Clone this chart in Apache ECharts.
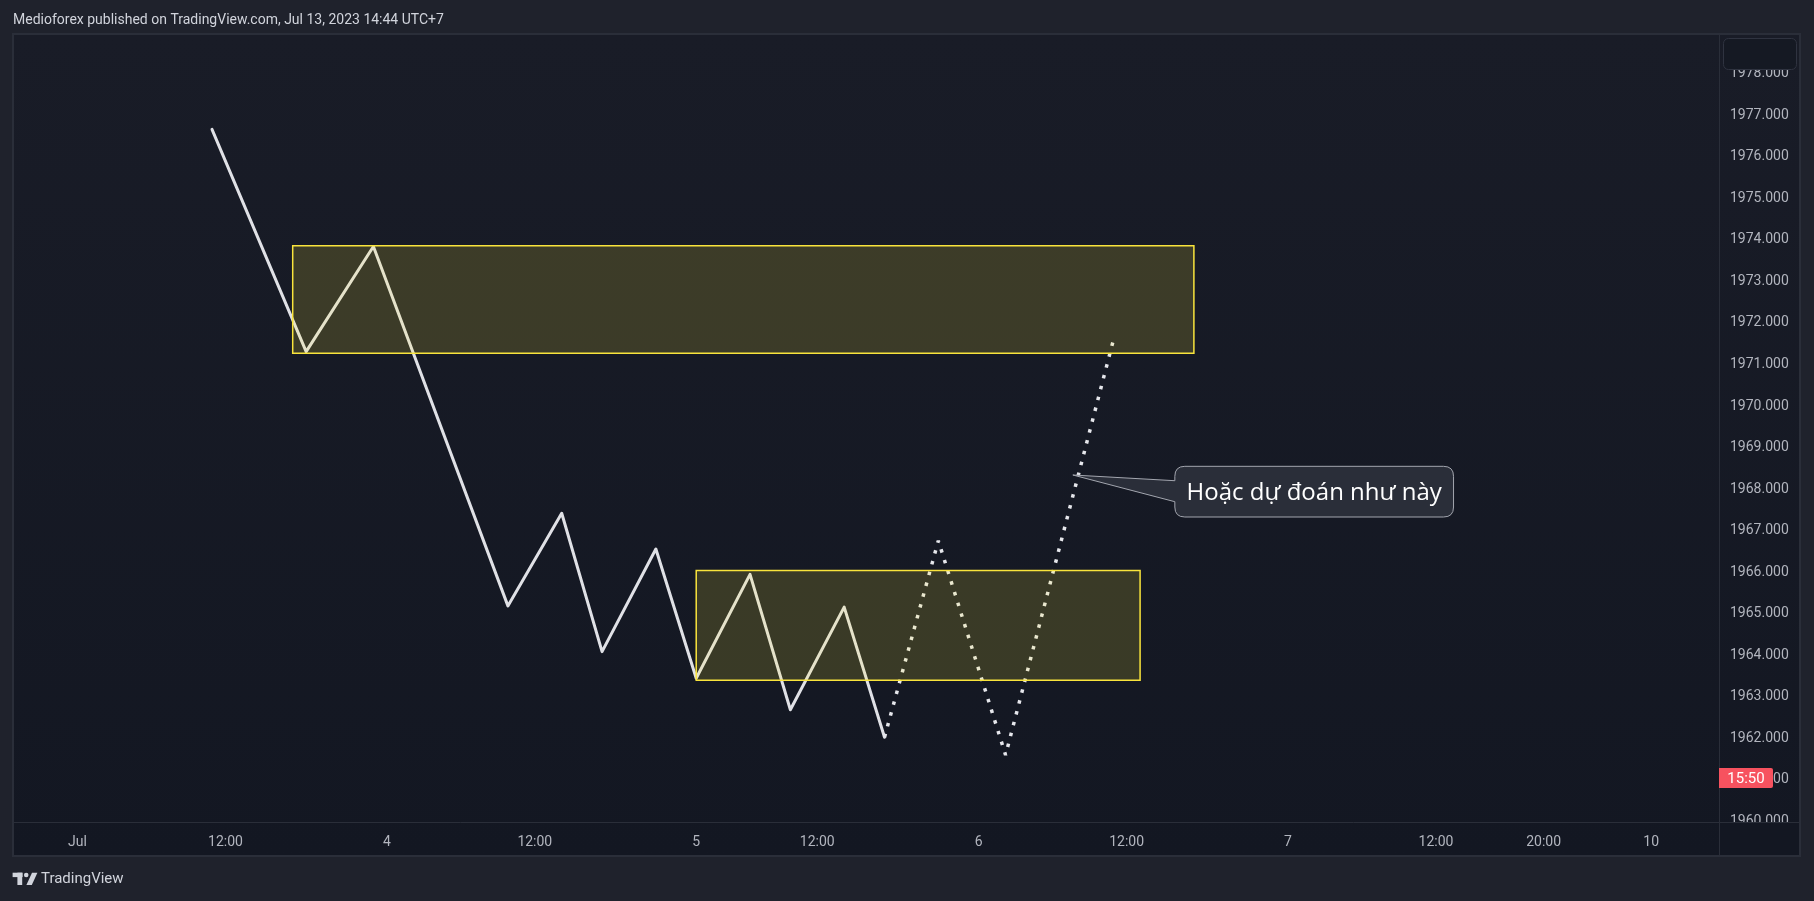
<!DOCTYPE html>
<html>
<head>
<meta charset="utf-8">
<script src="https://cdn.jsdelivr.net/npm/echarts@6/dist/echarts.min.js"></script>
<style>
html,body{margin:0;padding:0;background:#1f222c;}
#chart{width:1814px;height:901px;}
</style>
</head>
<body>
<div id="chart"></div>
<script>
// ---- data ----
const xLabelPos = [0, 11, 23, 34, 46, 55, 67, 78, 90, 101, 109, 117];
const xLabelText = ['Jul', '12:00', '4', '12:00', '5', '12:00', '6', '12:00', '7', '12:00', '20:00', '10'];
const yTicks = [1960, 1961, 1962, 1963, 1964, 1965, 1966, 1967, 1968, 1969, 1970, 1971, 1972, 1973, 1974, 1975, 1976, 1977, 1978];
const pathX = [10, 17, 22, 32, 36, 39, 43, 46, 50, 53, 57, 60];
const pathY = [1976.60, 1971.25, 1973.78, 1965.13, 1967.36, 1964.03, 1966.50, 1963.39, 1965.89, 1962.63, 1965.10, 1961.97];
const forecastX = [60, 64, 69, 77];
const forecastY = [1961.97, 1966.70, 1961.54, 1971.51];
const zoneStartX = [16, 46];
const zoneEndX = [83, 79];
const zoneTop = [1973.80, 1965.98];
const zoneBottom = [1971.21, 1963.34];
const calloutX = [74];
const calloutY = [1968.28];
const calloutText = ['Hoặc dự đoán như này'];
const titleText = 'Medioforex published on TradingView.com, Jul 13, 2023 14:44 UTC+7';
const countdownText = '15:50';

// ---- chart ----
const chart = echarts.init(document.getElementById('chart'), null, {renderer: 'canvas'});
const FONT = 'Roboto, "Noto Sans", sans-serif';
const GRID = {left: 14, right: 95, top: 35, bottom: 79};
const xMin = -4.72, xMax = 122.04, yMin = 1959.929, yMax = 1978.87;

const pathData = pathX.map((x, i) => [x, pathY[i]]);
const forecastData = forecastX.map((x, i) => [x, forecastY[i]]);
const zoneData = zoneStartX.map((x, i) => [x, zoneTop[i], zoneEndX[i], zoneBottom[i]]);
const calloutData = calloutX.map((x, i) => [x, calloutY[i], i]);

const option = {
  backgroundColor: '#1f222c',
  animation: false,
  grid: GRID,
  xAxis: {
    type: 'value', min: xMin, max: xMax,
    axisLine: {show: false}, axisTick: {show: false}, splitLine: {show: false},
    axisLabel: {
      customValues: xLabelPos,
      margin: 13,
      color: '#b2b5be', fontSize: 14, fontFamily: FONT,
      formatter: (v) => { const i = xLabelPos.indexOf(Math.round(v)); return i >= 0 ? xLabelText[i] : ''; }
    }
  },
  yAxis: {
    type: 'value', position: 'right', min: yMin, max: yMax,
    axisLine: {show: false}, axisTick: {show: false}, splitLine: {show: false},
    axisLabel: {
      customValues: yTicks,
      margin: 11, align: 'left', verticalAlign: 'top', lineHeight: 5,
      color: '#b2b5be', fontSize: 14, fontFamily: FONT,
      formatter: (v) => Number(v).toFixed(3)
    }
  },
  graphic: [
    {type: 'rect', z: -10, silent: true,
     shape: {x: 12, y: 33, width: 1789, height: 824},
     style: {fill: new echarts.graphic.LinearGradient(0, 0, 0, 1, [
       {offset: 0, color: '#191c27'}, {offset: 1, color: '#131722'}])}},
    {type: 'rect', z: 50, silent: true,
     shape: {x: 13, y: 34, width: 1787, height: 822},
     style: {fill: 'none', stroke: '#2a2e39', lineWidth: 2}},
    {type: 'rect', z: 40, silent: true,
     shape: {x: 1720, y: 823, width: 80, height: 33},
     style: {fill: '#131722'}},
    {type: 'line', z: 50, silent: true,
     shape: {x1: 1719.5, y1: 34, x2: 1719.5, y2: 856},
     style: {stroke: '#2a2e39', lineWidth: 1}},
    {type: 'line', z: 50, silent: true,
     shape: {x1: 14, y1: 822.5, x2: 1800, y2: 822.5},
     style: {stroke: '#2a2e39', lineWidth: 1}},
    {type: 'rect', z: 50, silent: true,
     shape: {x: 1723.5, y: 38.5, width: 73, height: 31, r: 5},
     style: {fill: '#151923', stroke: '#2f3340', lineWidth: 1}},
    {type: 'rect', z: 50, silent: true,
     shape: {x: 1719, y: 768, width: 54, height: 20, r: [0, 2, 2, 0]},
     style: {fill: '#f7525f'}},
    {type: 'text', z: 51, silent: true,
     style: {text: countdownText, x: 1746, y: 779, align: 'center', verticalAlign: 'middle',
             fill: '#ffffff', font: '15px ' + FONT}},
    {type: 'text', z: 50, silent: true,
     style: {text: titleText, x: 13, y: 20, align: 'left', verticalAlign: 'middle',
             fill: '#d1d4dc', font: '14px ' + FONT}},
    // TradingView logo
    {type: 'group', z: 50, silent: true, children: [
      {type: 'rect', shape: {x: 12.6, y: 872.7, width: 10, height: 4.4}, style: {fill: '#d1d4dc'}},
      {type: 'rect', shape: {x: 17.4, y: 872.7, width: 4.8, height: 12.3}, style: {fill: '#d1d4dc'}},
      {type: 'circle', shape: {cx: 26.2, cy: 875, r: 2.3}, style: {fill: '#d1d4dc'}},
      {type: 'polygon', shape: {points: [[32, 872.7], [37.4, 872.7], [31.8, 885], [26.4, 885]]}, style: {fill: '#d1d4dc'}}
    ]},
    {type: 'text', z: 50, silent: true,
     style: {text: 'TradingView', x: 41, y: 879, align: 'left', verticalAlign: 'middle',
             fill: '#d1d4dc', font: '15px ' + FONT}}
  ],
  series: [
    {
      type: 'line', name: 'path', data: pathData, z: 2,
      symbol: 'none', showSymbol: false,
      lineStyle: {color: '#e0e1e6', width: 3, join: 'round', cap: 'round'}
    },
    {
      type: 'line', name: 'forecast', data: forecastData, z: 2,
      symbol: 'none', showSymbol: false,
      lineStyle: {color: '#e6e7ec', width: 3.5, type: [3.5, 7.7], cap: 'butt'}
    },
    {
      type: 'custom', name: 'zones', z: 3, data: zoneData,
      encode: {x: [0, 2], y: [1, 3]},
      renderItem: (params, api) => {
        const a = api.coord([api.value(0), api.value(1)]);
        const b = api.coord([api.value(2), api.value(3)]);
        return {
          type: 'rect',
          shape: {x: a[0], y: a[1], width: b[0] - a[0], height: b[1] - a[1]},
          style: {fill: 'rgba(255, 235, 59, 0.16)', stroke: '#f9e43c', lineWidth: 1.5}
        };
      }
    },
    {
      type: 'custom', name: 'callout', z: 4, data: calloutData,
      encode: {x: 0, y: 1},
      renderItem: (params, api) => {
        const p = api.coord([api.value(0), api.value(1)]);
        const L = p[0] + 102, T = p[1] - 8.7, R = L + 278.7, B = T + 50.7, r = 10;
        const pa = p[1] + 5.7, pb = p[1] + 26.7;
        const d = `M${L + r},${T} L${R - r},${T} Q${R},${T} ${R},${T + r} L${R},${B - r} Q${R},${B} ${R - r},${B} ` +
                  `L${L + r},${B} Q${L},${B} ${L},${B - r} L${L},${pb} L${p[0]},${p[1]} L${L},${pa} L${L},${T + r} Q${L},${T} ${L + r},${T} Z`;
        return {
          type: 'group',
          children: [
            {type: 'path', shape: {pathData: d}, style: {fill: '#2a2e39', stroke: '#a3a6af', lineWidth: 1}},
            {type: 'text', style: {text: calloutText[api.value(2)], x: (L + R) / 2, y: (T + B) / 2 + 1,
              align: 'center', verticalAlign: 'middle', fill: '#ffffff', font: '24px "Open Sans", "Noto Sans", sans-serif'}}
          ]
        };
      }
    }
  ]
};
chart.setOption(option);
</script>
</body>
</html>
